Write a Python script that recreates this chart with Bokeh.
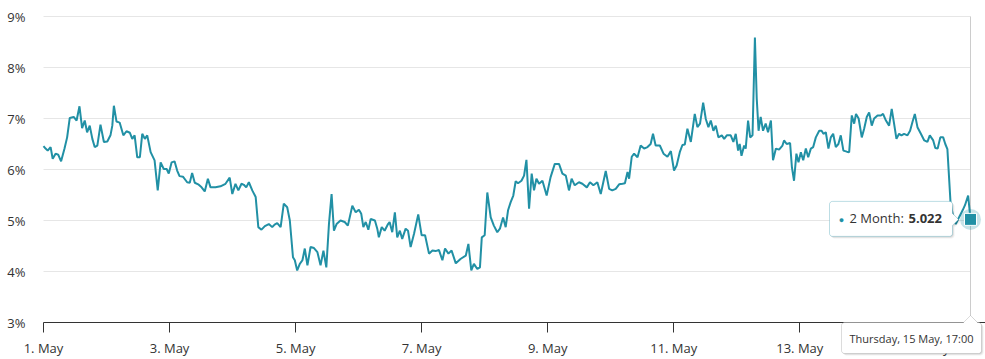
import math
from datetime import datetime, timedelta

from bokeh.plotting import figure
from bokeh.models import (Range1d, FixedTicker, Label, PolyAnnotation,
                          ColumnDataSource)
from bokeh.embed import file_html
from bokeh.resources import INLINE

# ---------------- data ----------------
series_name = "2 Month"
start_date = datetime(2025, 5, 1)

# hours since 1 May 00:00
hours = [
    0.0, 0.8, 1.6, 2.7, 3.5, 4.6, 5.6, 6.7, 8.0, 9.0, 10.0, 11.5, 12.6, 13.7, 14.7,
    15.7, 16.6, 17.6, 18.6, 19.5, 20.5, 21.7, 23.0, 24.3, 25.5, 26.2, 26.8, 27.8,
    29.0, 30.4, 31.6, 32.9, 33.8, 34.7, 35.7, 36.7, 37.6, 38.6, 39.5, 40.8, 42.3,
    43.5, 44.6, 45.8, 46.9, 47.7, 48.8, 49.9, 50.9, 51.8, 53.1, 54.7, 55.7, 56.6,
    57.6, 58.9, 60.2, 61.4, 62.6, 63.6, 65.5, 67.4, 69.3, 70.9, 71.9, 73.1, 74.2,
    75.4, 76.3, 77.2, 78.2, 79.5, 80.8, 81.8, 83.0, 84.3, 85.8, 87.1, 88.0, 89.0,
    90.3, 91.5, 92.8, 93.8, 95.0, 95.7, 96.6, 97.6, 98.6, 99.5, 100.5, 101.7,
    103.0, 104.3, 105.5, 106.6, 107.7, 108.7, 109.7, 110.6, 111.6, 113.1, 114.7,
    115.9, 117.6, 118.9, 120.1, 121.0, 121.8, 122.7, 123.7, 124.6, 126.2, 127.1,
    127.7, 128.8, 129.9, 131.2, 131.8, 132.8, 133.8, 134.7, 135.7, 136.6, 137.9,
    138.8, 139.8, 141.1, 142.7, 144.0, 145.3, 146.8, 148.1, 149.3, 150.6, 151.9,
    152.9, 154.2, 155.4, 157.0, 158.9, 160.8, 161.8, 162.9, 163.9, 165.2, 166.2,
    166.9, 168.0, 169.0, 170.3, 171.5, 172.8, 173.8, 175.0, 176.0, 176.9, 177.9,
    178.9, 179.8, 180.7, 182.0, 183.0, 183.9, 184.9, 185.9, 186.8, 187.7, 188.7,
    190.0, 191.6, 193.1, 194.7, 196.3, 197.6, 198.9, 200.1, 201.1, 202.3, 203.9,
    205.2, 206.9, 208.1, 209.4, 210.9, 212.2, 214.1, 215.4, 216.6, 217.9, 219.2,
    220.5, 221.4, 222.4, 223.0, 224.0, 224.9, 226.2, 227.4, 228.7, 230.0, 231.2,
    232.1, 233.1, 234.7, 236.1, 237.6, 238.9, 240.1, 241.1, 242.3, 243.3, 244.2,
    245.2, 246.5, 248.0, 249.0, 250.0, 251.2, 252.2, 253.2, 254.1, 255.1, 256.0,
    257.0, 258.3, 259.2, 260.2, 261.7, 262.7, 263.6, 264.5, 265.1, 265.8, 266.8,
    267.4, 268.3, 269.1, 270.0, 270.9, 271.6, 272.3, 273.1, 274.0, 275.0, 275.9,
    277.0, 277.8, 278.9, 280.1, 281.4, 282.0, 283.0, 284.3, 285.0, 285.8, 286.7,
    287.5, 288.4, 289.3, 290.3, 291.2, 292.2, 293.1, 294.1, 295.4, 296.3, 297.0,
    297.9, 298.9, 299.8, 300.7, 301.7, 302.7, 303.6, 304.6, 305.9, 306.8, 307.8,
    308.7, 309.4, 310.4, 311.6, 312.5, 313.5, 314.4, 315.4, 316.3, 317.6, 318.9,
    319.7, 320.8, 322.0, 323.0, 323.9, 324.8, 325.8, 326.7, 327.7, 329.0, 330.0,
    330.9, 331.8, 332.8, 334.1, 335.4, 336.6, 337.5, 338.8, 339.6, 340.5, 341.5,
    342.6, 343.4, 344.2, 345.4, 346.3, 347.4, 348.8, 350.0, 350.9, 352.1, 353.0,
]
values = [
    6.46, 6.41, 6.37, 6.44, 6.21, 6.31, 6.29, 6.16, 6.41, 6.63, 7.01, 7.03, 6.96, 7.24, 6.81,
    6.96, 6.73, 6.86, 6.60, 6.44, 6.47, 6.88, 6.54, 6.55, 6.67, 6.86, 7.25, 6.94,
    6.92, 6.67, 6.75, 6.72, 6.60, 6.67, 6.24, 6.24, 6.70, 6.60, 6.67, 6.34, 6.18,
    5.59, 6.14, 6.01, 6.01, 5.92, 6.14, 6.16, 5.98, 5.87, 5.86, 5.75, 5.74, 5.93,
    5.74, 5.71, 5.65, 5.57, 5.82, 5.65, 5.65, 5.67, 5.72, 5.84, 5.52, 5.72, 5.59,
    5.72, 5.70, 5.65, 5.75, 5.59, 5.46, 4.87, 4.82, 4.89, 4.93, 4.87, 4.92, 4.95,
    4.87, 5.33, 5.26, 5.00, 4.28, 4.22, 4.02, 4.15, 4.22, 4.45, 4.12, 4.48,
    4.46, 4.38, 4.12, 4.41, 4.08, 4.93, 5.52, 4.80, 4.93, 5.00, 4.97,
    4.90, 5.29, 5.16, 5.21, 5.13, 4.87, 4.97, 4.82, 5.03, 5.00, 4.84,
    4.67, 4.87, 4.80, 4.93, 4.97, 4.77, 5.16, 4.67, 4.80, 4.64, 4.84,
    4.80, 4.48, 4.74, 5.12, 4.71, 4.71, 4.35, 4.41, 4.40, 4.42, 4.22,
    4.45, 4.35, 4.41, 4.16, 4.25, 4.31, 4.54, 4.02, 4.15, 4.05, 4.08,
    4.67, 4.71, 5.55, 5.06, 4.90, 4.77, 4.84, 5.06, 4.87, 5.20, 5.36,
    5.49, 5.77, 5.73, 5.78, 5.88, 6.19, 5.23, 5.92, 5.59, 5.82, 5.72,
    5.78, 5.49, 5.85, 6.11, 6.11, 5.92, 5.88, 5.59, 5.82, 5.69, 5.75,
    5.72, 5.65, 5.75, 5.69, 5.75, 5.52, 5.97, 5.62, 5.59, 5.62, 5.71,
    5.72, 5.73, 5.95, 5.82, 6.25, 6.31, 6.24, 6.47, 6.41, 6.44, 6.50,
    6.70, 6.47, 6.47, 6.31, 6.25, 6.36, 5.98, 6.08, 6.34, 6.48, 6.49,
    6.80, 6.54, 7.09, 6.83, 6.90, 7.31, 6.99, 6.83, 6.96, 6.76, 6.86,
    6.63, 6.67, 6.60, 6.67, 6.67, 6.54, 6.70, 6.37, 6.50, 6.27, 6.47,
    6.41, 6.96, 6.63, 6.67, 8.59, 7.39, 6.76, 7.03, 6.76, 6.90, 6.73,
    6.96, 6.18, 6.41, 6.39, 6.47, 6.57, 6.50, 6.52, 6.04, 5.78, 6.31,
    6.14, 6.34, 6.18, 6.41, 6.24, 6.41, 6.44, 6.63, 6.76, 6.76, 6.70,
    6.73, 6.41, 6.63, 6.70, 6.44, 6.50, 6.67, 6.37, 6.35, 6.34, 7.06,
    6.90, 7.09, 7.00, 6.63, 6.80, 7.03, 7.12, 6.86, 7.00, 7.06, 7.06,
    7.09, 6.96, 6.86, 7.19, 6.90, 6.60, 6.70, 6.67, 6.70, 6.67, 6.76,
    6.93, 7.09, 6.83, 6.70, 6.57, 6.54, 6.67, 6.57, 6.42, 6.41, 6.63,
    6.63, 6.50, 6.40, 5.35, 5.10, 4.93, 5.08, 5.20, 5.30, 5.49, 5.022,
]

x_tick_hours = [0, 48, 96, 144, 192, 240, 288, 336]
x_tick_labels = ["1. May", "3. May", "5. May", "7. May", "9. May", "11. May", "13. May", "15. May"]
y_ticks = [3, 4, 5, 6, 7, 8, 9]
y_tick_labels = ["3%", "4%", "5%", "6%", "7%", "8%", "9%"]

# ---------------- layout / style ----------------
TEAL = "#2190a5"
TXT = "#333333"
FONT = "Open Sans"
W, H = 985, 359
PLOT_LEFT, PLOT_TOP = 43, 16      # pixel position of the plot band's top-left
PLOT_W, PLOT_H = 927, 306         # plot band size (first..last time, 3%..9%)
t_first, t_last, v_last = hours[0], hours[-1], values[-1]
px_h = PLOT_W / (t_last - t_first)     # pixels per hour
y0, y1 = y_ticks[0], y_ticks[-1]
px_y = PLOT_H / (y1 - y0)              # pixels per percent
x_start = t_first - PLOT_LEFT / px_h
x_end = x_start + W / px_h
y_top = y1 + PLOT_TOP / px_y
y_start = y_top - H / px_y

p = figure(width=W, height=H, x_range=Range1d(x_start, x_end),
           y_range=Range1d(y_start, y_top),
           output_backend="svg", toolbar_location=None,
           min_border_left=0, min_border_right=0, min_border_top=0,
           min_border_bottom=0)
p.outline_line_color = None
p.grid.visible = False
p.background_fill_color = "white"
p.border_fill_color = "white"

# x axis, pinned at the 3% level
xa = p.xaxis[0]
xa.fixed_location = y0
xa.bounds = (t_first, x_end)
xa.ticker = FixedTicker(ticks=x_tick_hours)
xa.major_label_overrides = dict(zip(x_tick_hours, x_tick_labels))
xa.minor_tick_line_color = None
xa.major_tick_in = 0
xa.major_tick_out = 10
xa.axis_line_color = "#333333"
xa.major_tick_line_color = "#333333"
xa.major_label_standoff = 6
xa.major_label_text_font = FONT
xa.major_label_text_font_size = "13px"
xa.major_label_text_color = TXT

# y axis, pinned at the first time
ya = p.yaxis[0]
ya.fixed_location = t_first
ya.ticker = FixedTicker(ticks=y_ticks)
ya.major_label_overrides = dict(zip(y_ticks, y_tick_labels))
ya.axis_line_color = None
ya.major_tick_line_color = None
ya.minor_tick_line_color = None
ya.major_tick_in = 0
ya.major_tick_out = 0
ya.major_label_standoff = 18
ya.major_label_text_font = FONT
ya.major_label_text_font_size = "13px"
ya.major_label_text_color = TXT

# horizontal grid lines (end at last data point, like the plot area)
grid_src = ColumnDataSource(dict(x0=[t_first] * len(y_ticks),
                                 x1=[t_last] * len(y_ticks),
                                 y=y_ticks))
p.segment(x0="x0", x1="x1", y0="y", y1="y", source=grid_src,
          line_color="#e6e6e6", line_width=1, level="underlay")

# crosshair at hovered point (inside the plot band only)
p.segment(x0=[t_last], x1=[t_last], y0=[y0], y1=[y1], line_color="#cccccc",
          line_width=1, level="underlay")

# series line
src = ColumnDataSource(dict(t=hours, v=values))
p.line("t", "v", source=src, line_color=TEAL, line_width=2)

# hovered point marker + halo
p.scatter([t_last], [v_last], size=21, fill_color=TEAL, fill_alpha=0.25,
          line_color=None)
p.scatter([t_last], [v_last], marker="square", size=12, fill_color=TEAL,
          line_color="white", line_width=1)


# ---------------- tooltips ----------------
def to_data(ax, ay, pts):
    """pixel offsets (y down) relative to an anchor in data units -> data coords"""
    xs = [ax + dx / px_h for dx, dy in pts]
    ys = [ay - dy / px_y for dx, dy in pts]
    return xs, ys


def callout(L, T, R, B, r=3, arrow=None, steps=4):
    pts = []

    def arc(cx, cy, a0, a1):
        for k in range(steps + 1):
            a = math.radians(a0 + (a1 - a0) * k / steps)
            pts.append((cx + r * math.cos(a), cy + r * math.sin(a)))

    arc(L + r, T + r, 180, 270)
    if arrow and arrow[0] == "top":
        ax_, h = arrow[1], arrow[2]
        pts += [(ax_ - h, T), (ax_, T - h), (ax_ + h, T)]
    arc(R - r, T + r, 270, 360)
    if arrow and arrow[0] == "right":
        ay_, h = arrow[1], arrow[2]
        pts += [(R, ay_ - h), (R + h, ay_), (R, ay_ + h)]
    arc(R - r, B - r, 0, 90)
    arc(L + r, B - r, 90, 180)
    return pts


def add_box(ax, ay, pts, line_color):
    for off, alpha in ((2, 0.06), (1, 0.10)):
        sx, sy = to_data(ax, ay, [(x + off, y + off) for x, y in pts])
        p.add_layout(PolyAnnotation(xs=sx, ys=sy, fill_color="black", fill_alpha=alpha,
                                    line_color=None))
    xs, ys = to_data(ax, ay, pts)
    p.add_layout(PolyAnnotation(xs=xs, ys=ys, fill_color="white", fill_alpha=1.0,
                                line_color=line_color, line_width=1))


def add_text(ax, ay, dx, dy, text, size, color=TXT, style="normal", align="left"):
    x, y = to_data(ax, ay, [(dx, dy)])
    p.add_layout(Label(x=x[0], y=y[0], text=text, text_font=FONT, text_font_size=size,
                       text_color=color, text_font_style=style, text_align=align,
                       text_baseline="middle"))


# series tooltip (left of the point, arrow pointing right)
add_box(t_last, v_last, callout(-141, -18, -18, 17, arrow=("right", 0, 6)), TEAL)
add_text(t_last, v_last, -129, 0, "\u25cf", "9px", color=TEAL, align="center")
add_text(t_last, v_last, -121, -1, f"{series_name}: ", "13px")
add_text(t_last, v_last, -62, -1, f"{v_last:.3f}", "13px", style="bold")

# x-value tooltip on the axis
when = start_date + timedelta(hours=t_last)
date_label = f"{when:%A}, {when.day} {when:%B}, {when:%H:%M}"
add_box(t_last, y0, callout(-129, 0, 11, 31, arrow=("top", 0, 7)), "#8a8a8a")
add_text(t_last, y0, -121, 16, date_label, "11px")

open("out.html", "w").write(file_html(p, INLINE))
